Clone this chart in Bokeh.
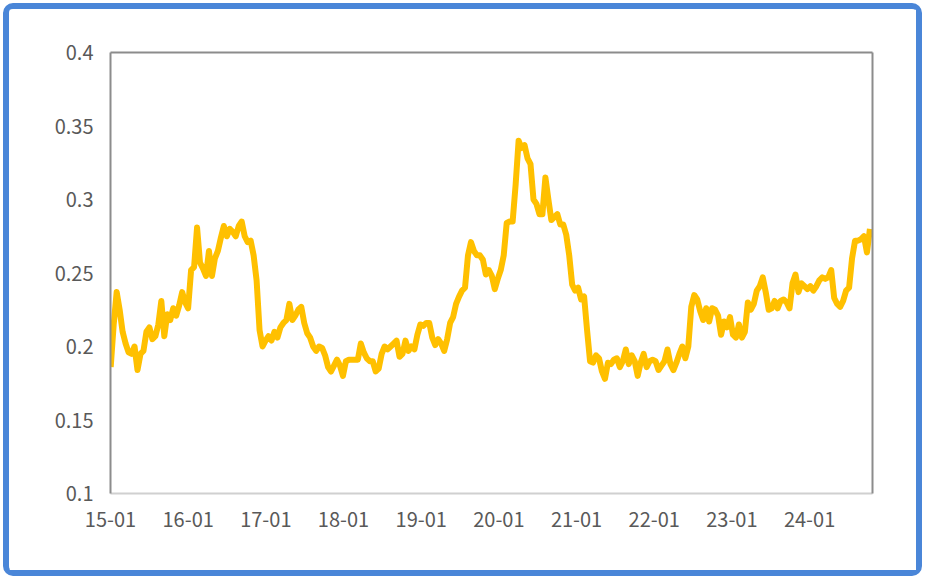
import pandas as pd
from bokeh.plotting import figure
from bokeh.models import LinearAxis, FixedTicker, Range1d
from bokeh.embed import file_html
from bokeh.resources import INLINE

# biweekly observations starting 2015-01-02
start_date = "2015-01-02"
values = [
    0.186, 0.215, 0.237, 0.225, 0.210, 0.202, 0.196, 0.195, 0.200, 0.184,
    0.195, 0.197, 0.210, 0.213, 0.205, 0.207, 0.215, 0.231, 0.207, 0.222,
    0.218, 0.226, 0.221, 0.228, 0.237, 0.230, 0.226, 0.252, 0.254, 0.281,
    0.257, 0.253, 0.248, 0.265, 0.248, 0.260, 0.265, 0.274, 0.282, 0.275,
    0.280, 0.278, 0.275, 0.282, 0.285, 0.275, 0.271, 0.272, 0.262, 0.245,
    0.211, 0.200, 0.204, 0.207, 0.204, 0.210, 0.206, 0.213, 0.216, 0.218,
    0.229, 0.218, 0.221, 0.225, 0.227, 0.216, 0.209, 0.206, 0.200, 0.197,
    0.200, 0.199, 0.194, 0.186, 0.183, 0.187, 0.191, 0.187, 0.180, 0.190,
    0.191, 0.191, 0.191, 0.191, 0.202, 0.196, 0.192, 0.190, 0.190, 0.183,
    0.185, 0.195, 0.200, 0.198, 0.200, 0.202, 0.204, 0.193, 0.195, 0.204,
    0.197, 0.200, 0.198, 0.208, 0.215, 0.214, 0.216, 0.216, 0.206, 0.201,
    0.205, 0.202, 0.197, 0.205, 0.216, 0.220, 0.229, 0.234, 0.238, 0.240,
    0.262, 0.271, 0.265, 0.262, 0.262, 0.259, 0.249, 0.252, 0.248, 0.239,
    0.246, 0.252, 0.262, 0.284, 0.285, 0.285, 0.310, 0.340, 0.335, 0.337,
    0.328, 0.324, 0.300, 0.297, 0.290, 0.290, 0.315, 0.300, 0.286, 0.288,
    0.290, 0.283, 0.283, 0.276, 0.262, 0.242, 0.238, 0.240, 0.232, 0.234,
    0.211, 0.190, 0.189, 0.194, 0.192, 0.183, 0.178, 0.189, 0.188, 0.191,
    0.192, 0.186, 0.190, 0.198, 0.188, 0.194, 0.190, 0.180, 0.189, 0.195,
    0.186, 0.190, 0.191, 0.190, 0.184, 0.187, 0.190, 0.198, 0.188, 0.184,
    0.189, 0.195, 0.200, 0.192, 0.200, 0.227, 0.235, 0.232, 0.224, 0.218,
    0.226, 0.217, 0.226, 0.225, 0.221, 0.208, 0.217, 0.213, 0.220, 0.208,
    0.206, 0.215, 0.206, 0.210, 0.230, 0.225, 0.229, 0.238, 0.241, 0.247,
    0.237, 0.225, 0.226, 0.231, 0.226, 0.231, 0.232, 0.230, 0.226, 0.243,
    0.249, 0.237, 0.243, 0.241, 0.239, 0.241, 0.238, 0.241, 0.245, 0.247,
    0.246, 0.247, 0.252, 0.233, 0.229, 0.227, 0.231, 0.238, 0.240, 0.260,
    0.272, 0.272, 0.273, 0.275, 0.264, 0.280,
]
tick_years = [2015, 2016, 2017, 2018, 2019, 2020, 2021, 2022, 2023, 2024]
tick_labels = ["15-01", "16-01", "17-01", "18-01", "19-01",
               "20-01", "21-01", "22-01", "23-01", "24-01"]
y_ticks = [0.1, 0.15, 0.2, 0.25, 0.3, 0.35, 0.4]
y_labels = ["0.1", "0.15", "0.2", "0.25", "0.3", "0.35", "0.4"]

dates = pd.date_range(start_date, periods=len(values), freq="14D")
x = [2015 + (d - pd.Timestamp("2015-01-01")).days / 365.25 for d in dates]

p = figure(width=919, height=573, output_backend="svg", toolbar_location=None,
           x_range=Range1d(2015.0, 2024.81), y_range=Range1d(0.1, 0.4),
           min_border_left=101, min_border_top=43, min_border_right=56,
           min_border_bottom=89)
p.styles = {"border": "6px solid #4A86D8", "border-radius": "10px",
            "margin-left": "3px", "margin-top": "3px"}
p.outline_line_color = None
p.grid.visible = False
p.background_fill_color = "white"
p.border_fill_color = "white"

p.line(x, values, line_color="#FFC000", line_width=6, line_join="round")

font = "Noto Sans CJK SC"
xa = p.xaxis[0]
xa.ticker = FixedTicker(ticks=tick_years)
xa.major_label_overrides = {t: l for t, l in zip(tick_years, tick_labels)}
xa.axis_line_color = "#D0D0D0"
xa.axis_line_width = 2
xa.major_tick_line_color = None
xa.minor_tick_line_color = None
xa.major_label_standoff = 12
xa.major_label_text_font = font
xa.major_label_text_font_size = "20px"
xa.major_label_text_color = "#595959"

ya = p.yaxis[0]
ya.ticker = FixedTicker(ticks=y_ticks)
ya.major_label_overrides = {t: l for t, l in zip(y_ticks, y_labels)}
ya.axis_line_color = "#8C8C8C"
ya.axis_line_width = 2
ya.major_tick_line_color = None
ya.minor_tick_line_color = None
ya.major_label_standoff = 11
ya.major_label_text_font = font
ya.major_label_text_font_size = "20px"
ya.major_label_text_color = "#595959"

for loc in ("right", "above"):
    ax = LinearAxis(ticker=FixedTicker(ticks=[]), axis_line_color="#8C8C8C",
                    axis_line_width=2, major_tick_line_color=None,
                    minor_tick_line_color=None, major_label_text_font_size="0px")
    p.add_layout(ax, loc)

open("out.html", "w").write(file_html(p, INLINE))
